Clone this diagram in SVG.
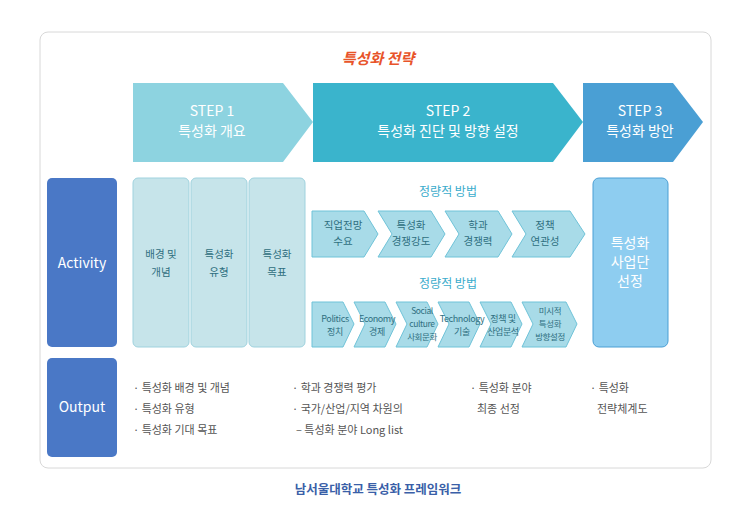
<svg xmlns="http://www.w3.org/2000/svg" width="750" height="523" viewBox="0 0 750 523">
<style>
text{font-family:"Noto Sans CJK KR","Liberation Sans",sans-serif}
.w{fill:#fff;font-size:14px;text-anchor:middle}
.c{fill:#2f6f80;font-size:10.5px;text-anchor:middle}
.s{fill:#2f6f80;font-size:9px;text-anchor:middle;letter-spacing:-0.4px}
.t{fill:#2f6f80;font-size:8.5px;text-anchor:middle;letter-spacing:-0.4px}
.o{fill:#555;font-size:11px}
.ch{fill:#a8dbe8;stroke:#6fc3d8;stroke-width:1}
.col{fill:#c6e4ea;stroke:#9fd2de;stroke-width:1}
.lbl{fill:#3aaccc;font-size:12px;text-anchor:middle}
</style>
<rect width="750" height="523" fill="#fff"/>
<rect x="40" y="32" width="671" height="436" rx="8" fill="#fff" stroke="#d8d8d8"/>
<text x="378" y="64" fill="#e8542a" font-size="15" font-weight="bold" text-anchor="middle" font-style="italic">특성화 전략</text>
<g id="step1"><polygon points="133,83 283,83 313,122 283,162 133,162" fill="#8dd3e0"/><text class="w" x="212" y="116">STEP 1</text><text class="w" x="212" y="136">특성화 개요</text></g>
<g id="step2"><polygon points="313,83 553,83 583,122 553,162 313,162" fill="#3ab4cc"/><text class="w" x="448" y="116">STEP 2</text><text class="w" x="448" y="136">특성화 진단 및 방향 설정</text></g>
<g id="step3"><polygon points="583,83 673,83 703,122 673,162 583,162" fill="#4a9fd4"/><text class="w" x="640" y="116">STEP 3</text><text class="w" x="640" y="136">특성화 방안</text></g>
<g id="activity"><rect x="47" y="178" width="70" height="169" rx="5" fill="#4a78c6"/><text class="w" x="82" y="268">Activity</text></g>
<g id="output"><rect x="47" y="358" width="70" height="99" rx="5" fill="#4a78c6"/><text class="w" x="82" y="412">Output</text></g>
<g id="a1"><rect class="col" x="133" y="178" width="56" height="169" rx="5"/><text class="c" x="161" y="258" font-size="12">배경 및</text><text class="c" x="161" y="276" font-size="12">개념</text></g>
<g id="a2"><rect class="col" x="191" y="178" width="56" height="169" rx="5"/><text class="c" x="219" y="258" font-size="12">특성화</text><text class="c" x="219" y="276" font-size="12">유형</text></g>
<g id="a3"><rect class="col" x="249" y="178" width="56" height="169" rx="5"/><text class="c" x="277" y="258" font-size="12">특성화</text><text class="c" x="277" y="276" font-size="12">목표</text></g>
<g id="a4"><rect x="593" y="178" width="75" height="169" rx="6" fill="#8ecdf0" stroke="#4a9fd4"/><text class="w" x="630" y="248" font-size="13">특성화</text><text class="w" x="630" y="267" font-size="13">사업단</text><text class="w" x="630" y="286" font-size="13">선정</text></g>
<text class="lbl" x="448" y="196">정량적 방법</text>
<text class="lbl" x="448" y="288">정량적 방법</text>
<g id="r1">
<g><polygon class="ch" points="312,211 364,211 378,234 364,257 312,257"/><text class="c" x="343" y="229">직업전망</text><text class="c" x="343" y="245">수요</text></g>
<g><polygon class="ch" points="378,211 431,211 445,234 431,257 378,257 392,234"/><text class="c" x="411" y="229">특성화</text><text class="c" x="411" y="245">경쟁강도</text></g>
<g><polygon class="ch" points="445,211 498,211 512,234 498,257 445,257 459,234"/><text class="c" x="478" y="229">학과</text><text class="c" x="478" y="245">경쟁력</text></g>
<g><polygon class="ch" points="512,211 570,211 585,234 570,257 512,257 526,234"/><text class="c" x="545" y="229">정책</text><text class="c" x="545" y="245">연관성</text></g>
</g>
<g id="r2">
<g><polygon class="ch" points="312,302 343,302 354,324 343,347 312,347"/><text class="s" x="335" y="322">Politics</text><text class="s" x="335" y="335">정치</text></g>
<g><polygon class="ch" points="354,302 385,302 396,324 385,347 354,347 365,324"/><text class="s" x="377" y="322">Economy</text><text class="s" x="377" y="335">경제</text></g>
<g><polygon class="ch" points="396,302 427,302 438,324 427,347 396,347 407,324"/><text class="t" x="422" y="314">Social</text><text class="t" x="422" y="327">culture</text><text class="t" x="422" y="340">사회문화</text></g>
<g><polygon class="ch" points="438,302 469,302 480,324 469,347 438,347 449,324"/><text class="s" x="462" y="322">Technology</text><text class="s" x="462" y="335">기술</text></g>
<g><polygon class="ch" points="480,302 511,302 522,324 511,347 480,347 491,324"/><text class="s" x="503" y="322">정책 및</text><text class="s" x="503" y="335">산업분석</text></g>
<g><polygon class="ch" points="522,302 566,302 577,324 566,347 522,347 533,324"/><text class="t" x="550" y="314">미시적</text><text class="t" x="550" y="327">특성화</text><text class="t" x="550" y="340">방향설정</text></g>
</g>
<g id="outputs">
<text class="o" x="133" y="392">· 특성화 배경 및 개념</text>
<text class="o" x="133" y="413">· 특성화 유형</text>
<text class="o" x="133" y="434">· 특성화 기대 목표</text>
<text class="o" x="292" y="392">· 학과 경쟁력 평가</text>
<text class="o" x="292" y="413">· 국가/산업/지역 차원의</text>
<text class="o" x="296" y="434">– 특성화 분야 Long list</text>
<text class="o" x="470" y="392">· 특성화 분야</text>
<text class="o" x="477" y="413">최종 선정</text>
<text class="o" x="590" y="392">· 특성화</text>
<text class="o" x="597" y="413">전략체계도</text>
</g>
<text x="378" y="494" fill="#3a5fa8" font-size="12.5" font-weight="bold" text-anchor="middle">남서울대학교 특성화 프레임워크</text>
</svg>
